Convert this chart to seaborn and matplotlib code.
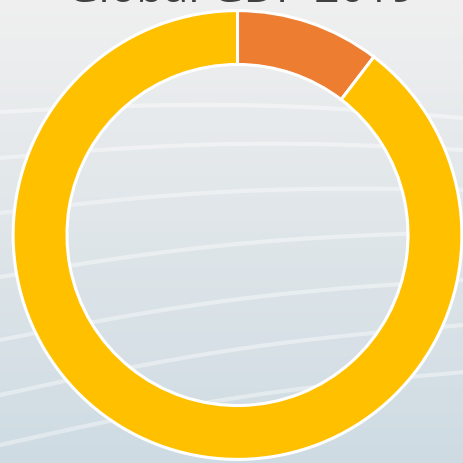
import numpy as np
import matplotlib
matplotlib.use("Agg")
import matplotlib.pyplot as plt
import seaborn as sns

# Data
labels = ["Share A", "Rest of world"]
shares = [10.4, 89.6]
colors = ["#ED7D31", "#FFC000"]
title = "Global GDP 2019"

sns.set_theme(style="white")
plt.rcParams['font.family'] = ['Open Sans', 'DejaVu Sans']

W, H = 464, 463
fig = plt.figure(figsize=(W / 100, H / 100), dpi=100)

# background gradient with soft white swooshes
bg = fig.add_axes([0, 0, 1, 1], zorder=0)
t = np.linspace(0, 1, 256)[:, None]
top = np.array([0.94, 0.94, 0.94])
bottom = np.array([0.81, 0.86, 0.89])
grad = (top * (1 - t) + bottom * t)[:, None, :] * np.ones((1, 2, 1))
bg.imshow(grad, extent=[0, W, H, 0], aspect='auto')
swooshes = [(112, 118), (158, 150), (213, 190), (277, 232), (340, 280), (395, 325), (445, 372)]
xs = np.linspace(0, W, 200)
for y0, y1 in swooshes:
    ys = y0 + (y1 - y0) * (xs / W) - 10 * np.sin(np.pi * xs / W)
    bg.plot(xs, ys, color="white", lw=3, alpha=0.4, solid_capstyle='round')
bg.set_xlim(0, W)
bg.set_ylim(H, 0)
bg.axis('off')

# donut
cx, cy, R = 237.5, 235, 225.5
ax = fig.add_axes([(cx - R) / W, (H - cy - R) / H, 2 * R / W, 2 * R / H], zorder=1)
ax.patch.set_alpha(0)
ax.pie(shares, colors=colors, startangle=90, counterclock=False, radius=1,
       wedgeprops=dict(width=0.24, edgecolor="white", linewidth=2.2))
ax.set_xlim(-1.005, 1.005)
ax.set_ylim(-1.005, 1.005)
ax.axis('off')

fig.text(241 / W, 1 - 2 / H, title, ha='center', va='baseline',
         fontsize=32, color="#404040", zorder=2)

fig.savefig("out.png", dpi=100)
